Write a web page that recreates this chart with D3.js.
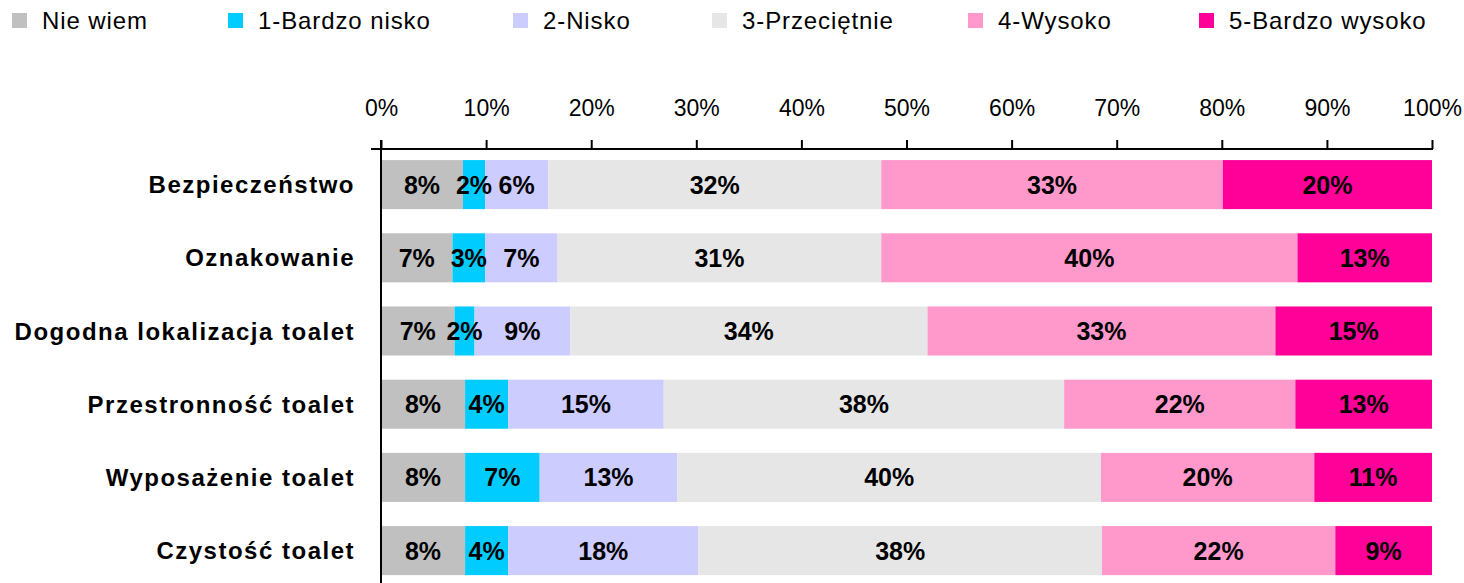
<!DOCTYPE html>
<html>
<head>
<meta charset="utf-8">
<script src="https://cdn.jsdelivr.net/npm/d3@7"></script>
<style>
  body { margin: 0; background: #fff; }
  text { font-family: "Liberation Sans", Arial, sans-serif; fill: #000; }
</style>
</head>
<body>
<div class="chart"></div>
<script>
const categories = [
  "Bezpieczeństwo",
  "Oznakowanie",
  "Dogodna lokalizacja toalet",
  "Przestronność toalet",
  "Wyposażenie toalet",
  "Czystość toalet",
];
const seriesNames = ["Nie wiem", "1-Bardzo nisko", "2-Nisko", "3-Przeciętnie", "4-Wysoko", "5-Bardzo wysoko"];
const nieWiem = [7.8, 6.8, 7.0, 8.0, 8.0, 8.0];
const bardzoNisko = [2.1, 3.1, 1.9, 4.1, 7.1, 4.1];
const nisko = [6.0, 6.9, 9.1, 14.8, 13.1, 18.1];
const przecietnie = [31.7, 30.8, 34.0, 38.1, 40.3, 38.4];
const wysoko = [32.5, 39.6, 33.1, 22.0, 20.3, 22.2];
const bardzoWysoko = [19.9, 12.8, 14.9, 13.0, 11.2, 9.2];
const colors = ["#c0c0c0", "#00ccff", "#ccccff", "#e6e6e6", "#ff99cc", "#ff0099"];

const allSeries = [nieWiem, bardzoNisko, nisko, przecietnie, wysoko, bardzoWysoko];
const rows = categories.map((c, i) => {
  const r = { cat: c };
  seriesNames.forEach((s, j) => (r[s] = allSeries[j][i]));
  return r;
});

const svgWidth = 1464;
const svgHeight = 583;
const svg = d3.select(".chart").append("svg")
  .attr("width", svgWidth)
  .attr("height", svgHeight);

const x = d3.scaleLinear().domain([0, 1]).range([381, 1432]);
const y = d3.scaleBand().domain(categories).range([148, 587.2])
  .paddingInner(0.33).paddingOuter(0.165);

const stacked = d3.stack().keys(seriesNames).offset(d3.stackOffsetExpand)(rows);

const layers = svg.selectAll(".layer").data(stacked).enter()
  .append("g").attr("class", "layer")
  .attr("fill", (d, i) => colors[i]);

layers.selectAll("rect").data((d) => d).enter().append("rect")
  .attr("x", (d) => x(d[0]))
  .attr("width", (d) => x(d[1]) - x(d[0]))
  .attr("y", (d) => y(d.data.cat))
  .attr("height", y.bandwidth());

// value labels on top of all bars
const labels = svg.append("g").attr("class", "labels");
stacked.forEach((s) => {
  labels.selectAll(null).data(s).enter().append("text")
    .attr("x", (d) => (x(d[0]) + x(d[1])) / 2)
    .attr("y", (d) => y(d.data.cat) + y.bandwidth() / 2 + 9)
    .attr("text-anchor", "middle")
    .style("font-size", "25px")
    .style("font-weight", "bold")
    .text((d) => Math.round(d.data[s.key]) + "%");
});

// top axis
const xAxis = svg.append("g")
  .attr("transform", "translate(0,149)")
  .call(d3.axisTop(x).ticks(10).tickFormat(d3.format(".0%")).tickSize(9).tickSizeOuter(0).tickPadding(24));
xAxis.select(".domain").remove();
xAxis.selectAll("line").attr("stroke", "#000").attr("stroke-width", 2);
xAxis.selectAll("text").style("font-size", "23px").style("font-family", "Liberation Sans, Arial, sans-serif");

svg.append("line")
  .attr("x1", 371).attr("x2", x(1) + 1)
  .attr("y1", 149).attr("y2", 149)
  .attr("stroke", "#000").attr("stroke-width", 2);
svg.append("line")
  .attr("x1", x(0)).attr("x2", x(0))
  .attr("y1", 140).attr("y2", svgHeight)
  .attr("stroke", "#000").attr("stroke-width", 2);

// category labels
svg.selectAll(".cat").data(categories).enter().append("text")
  .attr("class", "cat")
  .attr("x", 355)
  .attr("y", (d) => y(d) + y.bandwidth() / 2 + 8.5)
  .attr("text-anchor", "end")
  .style("font-size", "24px")
  .style("font-weight", "bold")
  .style("letter-spacing", "1.5px")
  .text((d) => d);

// legend
const legendX = [12, 228, 513, 712, 968, 1199];
const legend = svg.append("g").attr("class", "legend");
seriesNames.forEach((name, i) => {
  legend.append("rect")
    .attr("x", legendX[i]).attr("y", 13)
    .attr("width", 15).attr("height", 15)
    .attr("fill", colors[i]);
  legend.append("text")
    .attr("x", legendX[i] + 30).attr("y", 29)
    .style("font-size", "24px")
    .style("letter-spacing", "0.9px")
    .text(name);
});
</script>
</body>
</html>
